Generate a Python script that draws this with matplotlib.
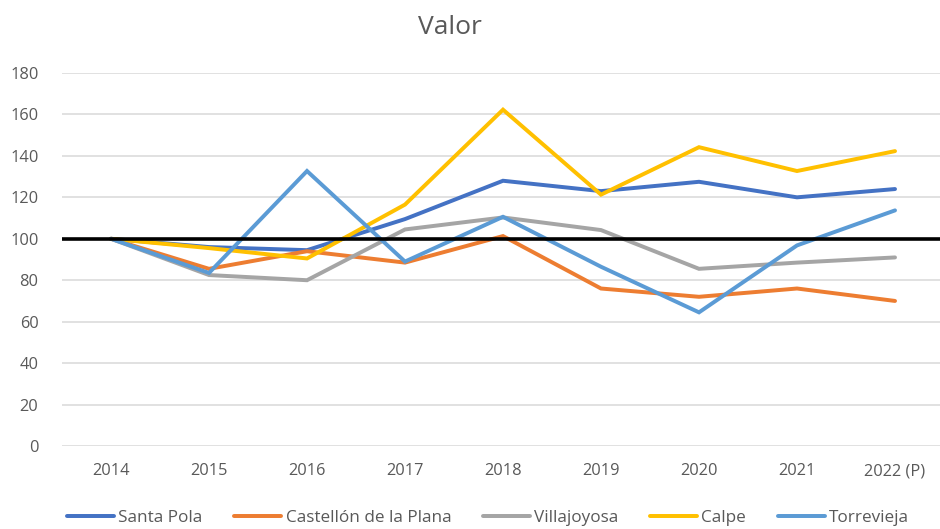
import matplotlib
matplotlib.use("Agg")
import matplotlib.pyplot as plt

years = ["2014", "2015", "2016", "2017", "2018", "2019", "2020", "2021", "2022 (P)"]
santa_pola = [100, 96, 94.5, 109.5, 128, 123, 127.5, 120, 124]
castellon = [100, 85.5, 94, 88.5, 101.3, 76, 72, 76, 70]
villajoyosa = [100, 82.5, 80, 104.5, 110.3, 104.2, 85.5, 88.5, 91]
calpe = [100, 95.5, 90.5, 116.5, 162.3, 121.3, 144.2, 132.7, 142.3]
torrevieja = [100, 83.5, 132.7, 89, 110.6, 86.5, 64.5, 96.8, 113.7]

series_names = ["Santa Pola", "Castellón de la Plana", "Villajoyosa", "Calpe", "Torrevieja"]
series_values = [santa_pola, castellon, villajoyosa, calpe, torrevieja]
colors = ["#4472C4", "#ED7D31", "#A5A5A5", "#FFC000", "#5B9BD5"]
reference_value = 100
yticks = [0, 20, 40, 60, 80, 100, 120, 140, 160, 180]

plt.rcParams['font.family'] = ['Open Sans', 'DejaVu Sans']
txt = "#595959"

fig = plt.figure(figsize=(9.4, 5.29), dpi=100)
W, H = 940, 529
left, right, top, bottom = 62, 944, 73, 446
ax = fig.add_axes([left / W, 1 - bottom / H, (right - left) / W, (bottom - top) / H])

x = list(range(len(years)))
for name, vals, c in zip(series_names, series_values, colors):
    ax.plot(x, vals, color=c, lw=2.85, label=name, solid_capstyle='round', solid_joinstyle='miter', zorder=3)

ax.axhline(reference_value, color="black", lw=2.6, zorder=5)

ax.set_xlim(-0.5, len(years) - 0.5)
ax.set_ylim(0, 180)
ax.set_yticks(yticks)
ax.set_xticks(x)
ax.set_xticklabels(years)
ax.grid(axis='y', color="#D9D9D9", lw=1.1, zorder=0)
ax.set_axisbelow(True)
for s in ax.spines.values():
    s.set_visible(False)
ax.tick_params(axis='both', length=0, labelsize=11.8, colors=txt)
ax.tick_params(axis='y', pad=17)
ax.tick_params(axis='x', pad=12.5)

fig.text(450 / W, 1 - 27 / H, "Valor", ha='center', va='center', fontsize=19, color=txt)

leg = fig.legend(loc='center', bbox_to_anchor=(488 / W, 1 - 518 / H), ncol=5, frameon=False,
                 fontsize=12.3, handlelength=2.75, handletextpad=0.25, columnspacing=1.85,
                 labelcolor=txt)
for l in leg.get_lines():
    l.set_linewidth(2.85)

fig.savefig("out.png", dpi=100)
